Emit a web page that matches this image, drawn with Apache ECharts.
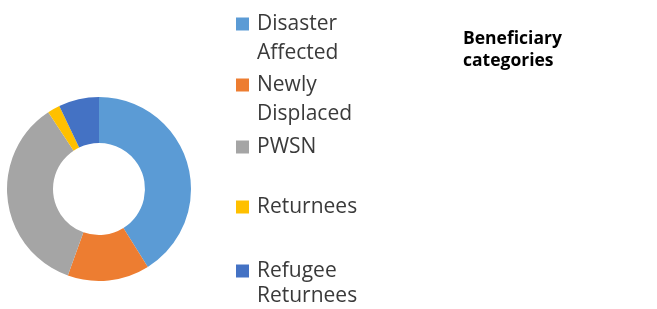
<!DOCTYPE html>
<html>
<head>
<meta charset="utf-8">
<script src="https://cdn.jsdelivr.net/npm/echarts@6/dist/echarts.min.js"></script>
<style>
  html, body { margin: 0; padding: 0; background: #fff; }
  #chart { width: 657px; height: 309px; }
</style>
</head>
<body>
<div id="chart"></div>
<script>
var categories = ['Disaster Affected', 'Newly Displaced', 'PWSN', 'Returnees', 'Refugee Returnees'];
var legendLabels = ['Disaster\nAffected', 'Newly\nDisplaced', 'PWSN', 'Returnees', 'Refugee\nReturnees'];
var values = [41.1, 14.4, 35.2, 2.2, 7.1];
var colors = ['#5B9BD5', '#ED7D31', '#A5A5A5', '#FFC000', '#4472C4'];

var chart = echarts.init(document.getElementById('chart'));

var iconCenters = [24, 85, 147, 207, 271];
var lineHeights = [29.5, 29.5, 29, 29, 25];

// one legend per item so the slots can sit where Excel put them;
// two-line labels get a blank first line so the real first line sits beside the square
var legends = categories.map(function (name, i) {
  var LH = lineHeights[i];
  var twoLines = legendLabels[i].indexOf('\n') >= 0;
  var boxH = twoLines ? 3 * LH : LH;
  return {
    data: [name],
    orient: 'vertical',
    left: 236,
    top: iconCenters[i] - boxH / 2,
    padding: 0,
    icon: 'rect',
    itemWidth: 13,
    itemHeight: 13,
    selectedMode: false,
    formatter: function () { return (twoLines ? ' \n' : '') + legendLabels[i]; },
    textStyle: {
      fontFamily: 'Open Sans',
      fontSize: 21,
      lineHeight: LH,
      color: '#3a3a3a',
      padding: [0, 0, 0, 3]
    }
  };
});

var option = {
  backgroundColor: '#ffffff',
  animation: false,
  color: colors,
  title: {
    text: 'Beneficiary\ncategories',
    left: 463,
    top: 28,
    padding: 0,
    textStyle: {
      fontFamily: 'Open Sans',
      fontSize: 17.5,
      fontWeight: 'bold',
      lineHeight: 22,
      color: '#000'
    }
  },
  legend: legends,
  series: [
    {
      type: 'pie',
      center: [99, 189],
      radius: [46, 92],
      startAngle: 90,
      clockwise: true,
      label: { show: false },
      labelLine: { show: false },
      itemStyle: { borderWidth: 0 },
      emphasis: { disabled: true },
      data: categories.map(function (c, i) {
        return { name: c, value: values[i] };
      })
    }
  ]
};

chart.setOption(option);
</script>
</body>
</html>
